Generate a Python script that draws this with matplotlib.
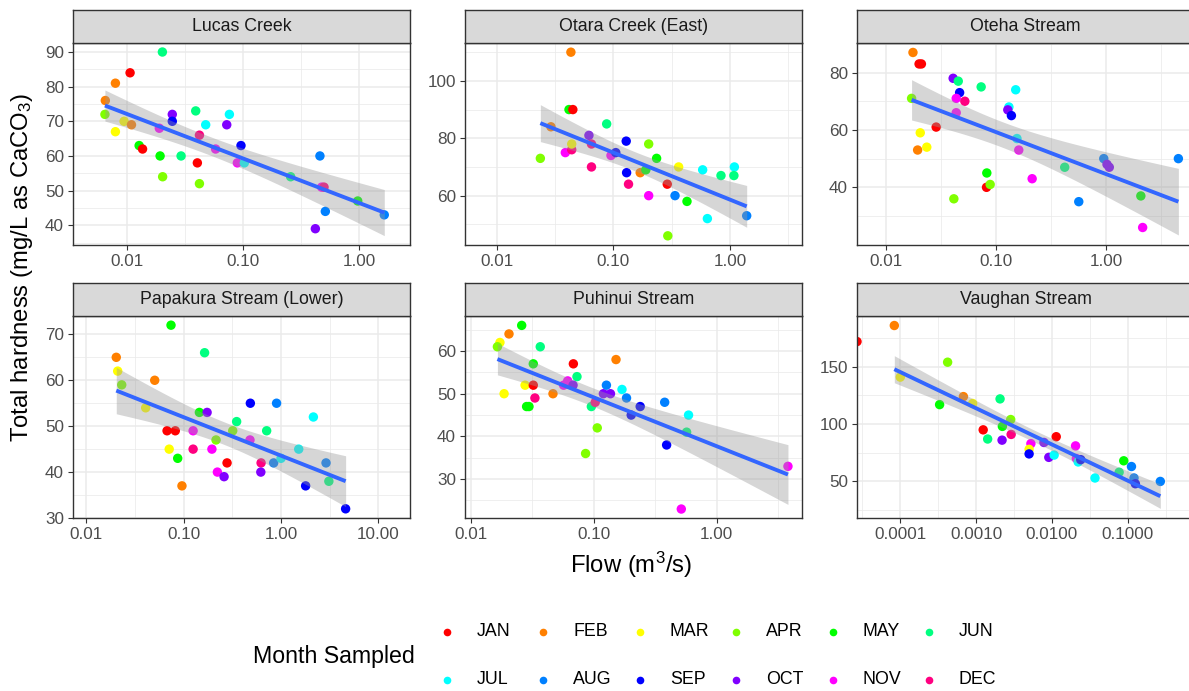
import numpy as np
import matplotlib.pyplot as plt
from matplotlib.colors import hsv_to_rgb
from matplotlib.ticker import NullFormatter

plt.rcParams['font.family'] = ['Liberation Sans', 'DejaVu Sans']
plt.rcParams['mathtext.fontset'] = 'custom'
plt.rcParams['mathtext.rm'] = 'Liberation Sans'
plt.rcParams['mathtext.it'] = 'Liberation Sans:italic'

months = ['JAN', 'FEB', 'MAR', 'APR', 'MAY', 'JUN',
          'JUL', 'AUG', 'SEP', 'OCT', 'NOV', 'DEC']
# R's rainbow(12)
month_colors = {m: hsv_to_rgb((i / 12, 1, 1)) for i, m in enumerate(months)}

# flow (m3/s), total hardness (mg/L as CaCO3), month sampled
lucas_flow = [0.0203, 0.0107, 0.0080, 0.00655, 0.0065, 0.0095, 0.011, 0.0080, 0.0128, 0.0137,
              0.0191, 0.0247, 0.0247, 0.0194, 0.0204, 0.0294, 0.0393, 0.0479, 0.0423, 0.0406,
              0.0423, 0.0766, 0.0727, 0.0583, 0.0964, 0.0897, 0.103, 0.258, 0.461, 0.477,
              0.50, 0.513, 0.421, 0.975, 1.65]
lucas_hard = [90, 84, 81, 76, 72, 70, 69, 67, 63, 62,
              68, 72, 70, 60, 54, 60, 73, 69, 66, 58,
              52, 72, 69, 62, 63, 58, 58, 54, 60, 51,
              51, 44, 39, 47, 43]
lucas_month = ['JUN', 'JAN', 'FEB', 'FEB', 'APR', 'MAR', 'FEB', 'MAR', 'MAY', 'JAN',
               'NOV', 'OCT', 'SEP', 'MAY', 'APR', 'JUN', 'JUN', 'JUL', 'DEC', 'JAN',
               'APR', 'JUL', 'OCT', 'NOV', 'SEP', 'NOV', 'JUL', 'JUN', 'AUG', 'NOV',
               'DEC', 'AUG', 'OCT', 'MAY', 'AUG']

otara_flow = [0.0433, 0.0417, 0.045, 0.0292, 0.0237, 0.0388, 0.044, 0.044, 0.0618, 0.065,
              0.065, 0.0877, 0.0955, 0.105, 0.129, 0.130, 0.135, 0.201, 0.235, 0.170,
              0.19, 0.201, 0.290, 0.363, 0.338, 0.428, 0.293, 0.583, 0.640, 0.837,
              1.09, 1.08, 1.39]
otara_hard = [110, 90, 90, 84, 73, 75, 76, 78, 81, 78,
              70, 85, 74, 75, 79, 68, 64, 78, 73, 68,
              69, 60, 64, 70, 60, 58, 46, 69, 52, 67,
              70, 67, 53]
otara_month = ['FEB', 'MAY', 'JAN', 'FEB', 'APR', 'NOV', 'DEC', 'MAR', 'OCT', 'DEC',
               'DEC', 'JUN', 'NOV', 'SEP', 'SEP', 'SEP', 'DEC', 'APR', 'MAY', 'FEB',
               'MAY', 'NOV', 'JAN', 'MAR', 'AUG', 'MAY', 'APR', 'JUL', 'JUL', 'JUN',
               'JUL', 'JUN', 'AUG']

oteha_flow = [0.0176, 0.0200, 0.0210, 0.0171, 0.0286, 0.0205, 0.0194, 0.0235, 0.0408, 0.0454,
              0.0467, 0.0435, 0.0521, 0.0435, 0.0414, 0.0733, 0.0825, 0.082, 0.0885, 0.131,
              0.128, 0.138, 0.151, 0.155, 0.161, 0.213, 0.421, 0.565, 0.953, 1.02,
              1.07, 2.07, 2.15, 4.54]
oteha_hard = [87, 83, 83, 71, 61, 59, 53, 54, 78, 77,
              73, 71, 70, 66, 36, 75, 45, 40, 41, 68,
              67, 65, 74, 57, 53, 43, 47, 35, 50, 48,
              47, 37, 26, 50]
oteha_month = ['FEB', 'JAN', 'JAN', 'APR', 'JAN', 'MAR', 'FEB', 'MAR', 'OCT', 'JUN',
               'SEP', 'NOV', 'DEC', 'NOV', 'APR', 'JUN', 'MAY', 'JAN', 'APR', 'JUL',
               'OCT', 'SEP', 'JUL', 'JUL', 'NOV', 'NOV', 'JUN', 'AUG', 'AUG', 'OCT',
               'OCT', 'MAY', 'NOV', 'AUG']

papakura_flow = [0.0741, 0.0203, 0.021, 0.0231, 0.0504, 0.0407, 0.164, 0.145, 0.174, 0.0675,
                 0.082, 0.071, 0.0868, 0.096, 0.125, 0.125, 0.195, 0.215, 0.222, 0.260,
                 0.279, 0.319, 0.350, 0.484, 0.48, 0.624, 0.62, 0.712, 0.90, 0.84,
                 1.0, 1.52, 2.15, 1.79, 2.90, 3.1, 4.61]
papakura_hard = [72, 65, 62, 59, 60, 54, 66, 53, 53, 49,
                 49, 45, 43, 37, 49, 45, 45, 47, 40, 39,
                 42, 49, 51, 55, 47, 42, 40, 49, 55, 42,
                 43, 45, 52, 37, 42, 38, 32]
papakura_month = ['MAY', 'FEB', 'MAR', 'APR', 'FEB', 'MAR', 'JUN', 'MAY', 'OCT', 'JAN',
                  'JAN', 'MAR', 'MAY', 'FEB', 'NOV', 'DEC', 'NOV', 'APR', 'NOV', 'OCT',
                  'JAN', 'APR', 'JUN', 'SEP', 'NOV', 'DEC', 'OCT', 'JUN', 'AUG', 'AUG',
                  'JUL', 'JUL', 'JUL', 'SEP', 'AUG', 'JUN', 'SEP']

puhinui_flow = [0.026, 0.0205, 0.0173, 0.0165, 0.0368, 0.0323, 0.0277, 0.0323, 0.0187, 0.0285,
                0.0298, 0.0333, 0.0467, 0.0684, 0.0732, 0.0615, 0.057, 0.068, 0.0958, 0.103,
                0.107, 0.086, 0.120, 0.137, 0.127, 0.152, 0.170, 0.185, 0.202, 0.239,
                0.378, 0.392, 0.591, 0.57, 0.516, 3.80]
puhinui_hard = [66, 64, 62, 61, 61, 57, 52, 52, 50, 47,
                47, 49, 50, 57, 54, 53, 52, 52, 47, 48,
                42, 36, 50, 50, 52, 58, 51, 49, 45, 47,
                48, 38, 45, 41, 23, 33]
puhinui_month = ['MAY', 'FEB', 'MAR', 'APR', 'JUN', 'MAY', 'MAR', 'JAN', 'MAR', 'MAY',
                 'MAY', 'DEC', 'FEB', 'JAN', 'JUN', 'NOV', 'NOV', 'OCT', 'JUN', 'DEC',
                 'APR', 'APR', 'OCT', 'OCT', 'AUG', 'FEB', 'JUL', 'AUG', 'SEP', 'SEP',
                 'AUG', 'SEP', 'JUL', 'JUN', 'NOV', 'NOV']

vaughan_flow = [0.0, 8.34e-5, 1.0e-4, 4.21e-4, 3.3e-4, 6.8e-4, 9.0e-4, 2.07e-3, 1.24e-3, 1.42e-3,
                2.22e-3, 2.86e-3, 2.2e-3, 2.9e-3, 5.28e-3, 5.0e-3, 5.0e-3, 7.85e-3, 9.1e-3, 0.0107,
                0.0114, 0.0205, 0.021, 0.0222, 0.024, 0.037, 0.077, 0.0886, 0.112, 0.121,
                0.126, 0.269]
vaughan_hard = [172, 186, 141, 154, 117, 124, 118, 122, 95, 87,
                98, 104, 86, 91, 83, 78, 74, 84, 71, 73,
                89, 81, 70, 67, 69, 53, 58, 68, 63, 53,
                48, 50]
vaughan_month = ['JAN', 'FEB', 'MAR', 'APR', 'MAY', 'FEB', 'MAR', 'JUN', 'JAN', 'JUN',
                 'MAY', 'APR', 'OCT', 'DEC', 'NOV', 'MAR', 'SEP', 'OCT', 'OCT', 'JUL',
                 'JAN', 'NOV', 'NOV', 'JUL', 'SEP', 'JUL', 'JUN', 'MAY', 'AUG', 'AUG',
                 'SEP', 'AUG']

sites = ['Lucas Creek', 'Otara Creek (East)', 'Oteha Stream',
         'Papakura Stream (Lower)', 'Puhinui Stream', 'Vaughan Stream']
site_data = [(lucas_flow, lucas_hard, lucas_month),
             (otara_flow, otara_hard, otara_month),
             (oteha_flow, oteha_hard, oteha_month),
             (papakura_flow, papakura_hard, papakura_month),
             (puhinui_flow, puhinui_hard, puhinui_month),
             (vaughan_flow, vaughan_hard, vaughan_month)]

# free scales per facet: log10 x limits, y limits, y breaks
x_lims = [(-2.462, 0.439), (-2.271, 0.617), (-2.263, 0.799),
          (-2.137, 1.325), (-2.046, 0.694), (-4.571, -0.126)]
y_lims = [(34.3, 92.6), (42.8, 113.2), (19.9, 90.3),
          (30.0, 74.0), (20.9, 68.2), (18.1, 194.3)]
y_breaks = [[40, 50, 60, 70, 80, 90], [60, 80, 100], [40, 60, 80],
            [30, 40, 50, 60, 70], [30, 40, 50, 60], [50, 100, 150]]


def t975(df):
    # Cornish-Fisher approximation of the 97.5% t quantile
    z = 1.959964
    return z + (z**3 + z) / (4 * df) + (5 * z**5 + 16 * z**3 + 3 * z) / (96 * df**2)


def lm_smooth(flow, hard, n=80):
    # geom_smooth(method = "lm") on log10 flow, zero flows dropped
    flow = np.asarray(flow, float)
    hard = np.asarray(hard, float)
    ok = flow > 0
    lx, y = np.log10(flow[ok]), hard[ok]
    k = len(lx)
    b, a = np.polyfit(lx, y, 1)
    resid = y - (a + b * lx)
    s = np.sqrt(resid @ resid / (k - 2))
    grid = np.linspace(lx.min(), lx.max(), n)
    fit = a + b * grid
    se = s * np.sqrt(1 / k + (grid - lx.mean())**2 / ((lx - lx.mean())**2).sum())
    t = t975(k - 2)
    return 10**grid, fit, fit - t * se, fit + t * se


W, H = 1189, 691
fig = plt.figure(figsize=(W / 100, H / 100), dpi=100)


def box(x0, y0, x1, y1):
    return [x0 / W, 1 - y1 / H, (x1 - x0) / W, (y1 - y0) / H]


cols = [(73, 410), (465, 802), (857, 1194)]
rows = [(10, 43, 245), (283, 316, 518)]

for i, (site, (flow, hard, mon)) in enumerate(zip(sites, site_data)):
    x0, x1 = cols[i % 3]
    s0, s1, p1 = rows[i // 3]
    ax = fig.add_axes(box(x0, s1, x1, p1))
    lo, hi = 10**x_lims[i][0], 10**x_lims[i][1]

    flow = np.asarray(flow, float)
    # zero flow sits at the left edge, like -Inf on a log scale
    xs = np.where(flow > 0, flow, lo)
    ax.scatter(xs, hard, s=46, c=[month_colors[m] for m in mon],
               linewidths=0, zorder=2, clip_on=True)

    gx, fit, cl, cu = lm_smooth(flow, hard)
    ax.fill_between(gx, cl, cu, color='#999999', alpha=0.4, lw=0, zorder=3)
    ax.plot(gx, fit, color='#3366FF', lw=2.8, zorder=4, solid_capstyle='butt')

    ax.set_xscale('log')
    dec = np.arange(np.floor(x_lims[i][0]), np.ceil(x_lims[i][1]) + 1)
    majors = [d for d in dec if x_lims[i][0] <= d <= x_lims[i][1]]
    nd = max(int(-min(majors)), 2)
    ax.set_xticks([10**d for d in majors])
    ax.set_xticklabels([f'{10**d:.{nd}f}' for d in majors])
    ax.set_xticks([10**(d + 0.5) for d in dec], minor=True)
    ax.xaxis.set_minor_formatter(NullFormatter())

    yb = y_breaks[i]
    step = yb[1] - yb[0]
    ax.set_yticks(yb)
    ax.set_yticks(np.arange(yb[0] - step / 2, yb[-1] + step, step), minor=True)
    ax.set_xlim(lo, hi)
    ax.set_ylim(*y_lims[i])

    ax.grid(which='major', color='#EBEBEB', lw=1.1)
    ax.grid(which='minor', color='#EBEBEB', lw=0.55)
    ax.set_axisbelow(True)
    ax.tick_params(which='major', length=3.5, width=0.8, color='#333333',
                   labelcolor='#4D4D4D', labelsize=12.3, pad=3)
    ax.tick_params(which='minor', length=0)
    for sp in ax.spines.values():
        sp.set_color('#333333')
        sp.set_linewidth(1.0)

    # facet strip
    st = fig.add_axes(box(x0, s0, x1, s1))
    st.set_facecolor('#D9D9D9')
    st.set_xticks([])
    st.set_yticks([])
    for sp in st.spines.values():
        sp.set_color('#333333')
        sp.set_linewidth(1.0)
    st.text(0.5, 0.5, site, ha='center', va='center', fontsize=12.8,
            color='#1A1A1A', transform=st.transAxes)

fig.text(631 / W, 1 - 565 / H, 'Flow (m$^3$/s)', ha='center', va='center', fontsize=17.2)
fig.text(22 / W, 1 - 267 / H, 'Total hardness (mg/L as CaCO$_3$)', ha='center',
         va='center', rotation=90, fontsize=17.2)

# legend: title on the left, keys in two rows of six
leg = fig.add_axes([0, 0, 1, 1], zorder=-1)
leg.set_xlim(0, W)
leg.set_ylim(H, 0)
leg.axis('off')
leg.text(253, 657, 'Month Sampled', ha='left', va='center', fontsize=16.7)
for k, m in enumerate(months):
    kx = 447 + 96.4 * (k % 6)
    ky = 632 + 48 * (k // 6)
    leg.plot(kx, ky, 'o', ms=5.5, mew=0, color=month_colors[m])
    leg.text(kx + 30, ky, m, ha='left', va='center', fontsize=12.8)

fig.savefig('out.png', dpi=100)
